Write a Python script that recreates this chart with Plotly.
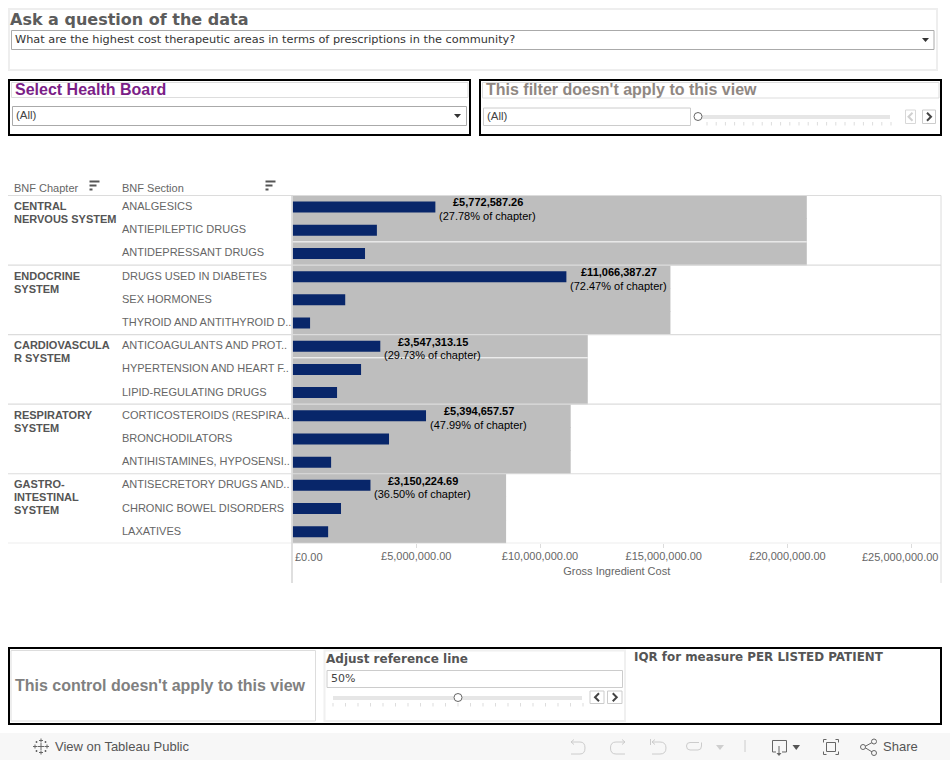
import numpy as np
import plotly.graph_objects as go

# ---- data ----
chapters = ["CENTRAL<br>NERVOUS SYSTEM", "ENDOCRINE<br>SYSTEM", "CARDIOVASCULA<br>R SYSTEM",
            "RESPIRATORY<br>SYSTEM", "GASTRO-<br>INTESTINAL<br>SYSTEM"]
sections = ["ANALGESICS", "ANTIEPILEPTIC DRUGS", "ANTIDEPRESSANT DRUGS",
            "DRUGS USED IN DIABETES", "SEX HORMONES", "THYROID AND ANTITHYROID D..",
            "ANTICOAGULANTS AND PROT..", "HYPERTENSION AND HEART F..", "LIPID-REGULATING DRUGS",
            "CORTICOSTEROIDS (RESPIRA..", "BRONCHODILATORS", "ANTIHISTAMINES, HYPOSENSI..",
            "ANTISECRETORY DRUGS AND..", "CHRONIC BOWEL DISORDERS", "LAXATIVES"]
section_cost = [5772587.26, 3410000, 2930000,
                11066387.27, 2130000, 710000,
                3547313.15, 2770000, 1800000,
                5394657.57, 3900000, 1560000,
                3150224.69, 1960000, 1440000]
chapter_total = [20780000, 15270000, 11930000, 11240000, 8630000]
top_section_label = ["£5,772,587.26", "£11,066,387.27", "£3,547,313.15", "£5,394,657.57", "£3,150,224.69"]
top_section_share = ["(27.78% of chapter)", "(72.47% of chapter)", "(29.73% of chapter)",
                     "(47.99% of chapter)", "(36.50% of chapter)"]
axis_ticks = [0, 5000000, 10000000, 15000000, 20000000, 25000000]
axis_tick_labels = ["£0.00", "£5,000,000.00", "£10,000,000.00", "£15,000,000.00", "£20,000,000.00", "£25,000,000.00"]

# ---- layout constants (pixels) ----
W, H = 950, 760
PX0, PX1, PY0, PY1 = 292.5, 941.0, 195.5, 543.3
ARIAL = "Liberation Sans, Arial, sans-serif"
DEJA = "DejaVu Sans, Verdana, sans-serif"
SEP = "#dcdcdc"


def fx(x):
    return x / W


def fy(y):
    return 1 - y / H


shapes = []
annos = []


def rect(x0, y0, x1, y1, line=None, fill=None, w=1):
    shapes.append(dict(type="rect", xref="paper", yref="paper", x0=fx(x0), x1=fx(x1), y0=fy(y0), y1=fy(y1),
                       line=dict(color=line or "rgba(0,0,0,0)", width=w if line else 0),
                       fillcolor=fill or "rgba(0,0,0,0)", layer="above"))


def seg(x0, y0, x1, y1, color=SEP, w=1):
    shapes.append(dict(type="line", xref="paper", yref="paper", x0=fx(x0), x1=fx(x1), y0=fy(y0), y1=fy(y1),
                       line=dict(color=color, width=w), layer="above"))


def path(cmds, line=None, fill=None, w=1):
    parts = []
    for c in cmds:
        letter, *nums = c
        coords = [f"{fx(nums[i]):.5f},{fy(nums[i + 1]):.5f}" for i in range(0, len(nums), 2)]
        parts.append(letter + " " + " ".join(coords))
    shapes.append(dict(type="path", xref="paper", yref="paper", path=" ".join(parts),
                       line=dict(color=line or "rgba(0,0,0,0)", width=w if line else 0),
                       fillcolor=fill or "rgba(0,0,0,0)", layer="above"))


def tri(x0, x1, y0, y1, fill):
    path([("M", x0, y0), ("L", x1, y0), ("L", (x0 + x1) / 2, y1), ("Z",)], fill=fill)


def circle(cx, cy, r, line="#666666", fill="#ffffff", w=1):
    shapes.append(dict(type="circle", xref="paper", yref="paper", x0=fx(cx - r), x1=fx(cx + r),
                       y0=fy(cy + r), y1=fy(cy - r), line=dict(color=line, width=w), fillcolor=fill, layer="above"))


def text(x, y, s, size=11, color="#555555", family=ARIAL, bold=False, anchor="left", yanchor="middle"):
    nudge = -1 if anchor == "left" else 1
    annos.append(dict(xref="paper", yref="paper", x=fx(x + nudge), y=fy(y), text=f"<b>{s}</b>" if bold else s,
                      showarrow=False, xanchor=anchor, yanchor=yanchor, align="left", borderpad=0,
                      font=dict(family=family, size=size, color=color)))


def button(x0, x1, y0, y1, dark):
    rect(x0, y0, x1, y1, line="#cccccc" if dark else "#d8d8d8")
    cx, cy = (x0 + x1) / 2, (y0 + y1) / 2
    return cx, cy


def chevron(cx, cy, right, color, w=2):
    d = 2 if right else -2
    path([("M", cx - d, cy - 4), ("L", cx + d, cy), ("L", cx - d, cy + 4)], line=color, w=w)


def slider_ticks(x0, x1, y0, y1, n):
    for x in np.linspace(x0, x1, n):
        seg(x, y0, x, y1, color="#dddddd")


# ---- header panel ----
rect(9, 9, 937, 70, line="#eeeeee", w=2)
text(10, 20, "Ask a question of the data", size=16, color="#5c5c5c", family=DEJA, bold=True)
rect(11.5, 30.5, 934, 49.5, line="#aaaaaa")
text(15, 39.5, "What are the highest cost therapeutic areas in terms of prescriptions in the community?",
     size=11.3, color="#333333", family=DEJA)
tri(922, 929, 38, 42, "#333333")

# ---- health board panel ----
rect(9, 80, 470, 135, line="#000000", w=2)
rect(11.5, 82.5, 468, 97.5, line="#dddddd")
text(15, 89.5, "Select Health Board", size=16, color="#7b1e87", bold=True)
rect(12.5, 106.5, 466.5, 125.5, line="#aaaaaa")
text(16, 115, "(All)", size=11.5, color="#444444")
tri(454, 461, 114, 118, "#333333")

# ---- filter panel ----
rect(480, 80, 941, 135, line="#000000", w=2)
rect(482.5, 82.5, 939, 98, line="#dddddd")
text(486, 89.5, "This filter doesn't apply to this view", size=16, color="#8f8782", bold=True)
rect(483.5, 108, 690.5, 125.5, line="#cccccc")
text(487, 116, "(All)", size=11.5, color="#444444")
rect(697, 115, 890, 119, fill="#e6e6e6")
slider_ticks(707, 891, 122, 125.5, 21)
circle(698, 116.5, 4)
cx, cy = button(905.5, 915.5, 110, 123.5, False)
chevron(cx, cy, False, "#d0d0d0")
cx, cy = button(922.5, 935.5, 110, 123.5, True)
chevron(cx, cy, True, "#444444")

# ---- column headers ----
text(14, 188, "BNF Chapter", size=11, color="#666666")
text(122, 188, "BNF Section", size=11, color="#666666")
for sx in (89.5, 265.5):
    seg(sx, 181.5, sx + 10, 181.5, color="#555555", w=2)
    seg(sx, 185.5, sx + 7, 185.5, color="#555555", w=2)
    seg(sx, 189.5, sx + 3, 189.5, color="#555555", w=2)

# ---- chart frame ----
seg(8, PY0, PX1, PY0)
seg(PX0 - 0.5, PY0, PX0 - 0.5, 583, color="#d4d4d4", w=1.5)
seg(PX1, PY0, PX1, 583)

# ---- row / chapter annotations tied to the categorical axis ----
chapter_groups = [sections[i:i + 3] for i in range(0, len(sections), 3)]
section_cost_by_name = dict(zip(sections, section_cost))

for sec in sections:
    annos.append(dict(xref="paper", yref="y", x=fx(121), y=sec, yshift=1, text=sec, showarrow=False, xanchor="left",
                      yanchor="middle", align="left", borderpad=0,
                      font=dict(family=ARIAL, size=11, color="#666666")))

for i, (ch, group) in enumerate(zip(chapters, chapter_groups)):
    for j, part in enumerate(ch.split("<br>")):
        annos.append(dict(xref="paper", yref="y", x=fx(13), y=group[0], yshift=1 - 13 * j, text=f"<b>{part}</b>",
                          showarrow=False, xanchor="left", yanchor="middle", align="left", borderpad=0,
                          font=dict(family=ARIAL, size=11, color="#555555")))
    annos.append(dict(xref="x", yref="y", x=section_cost_by_name[group[0]], y=group[0], xshift=52.5, yshift=4.6,
                      text=f"<b>{top_section_label[i]}</b>", showarrow=False,
                      xanchor="center", yanchor="middle", borderpad=0,
                      font=dict(family=ARIAL, size=11, color="#000000")))
    annos.append(dict(xref="x", yref="y", x=section_cost_by_name[group[0]], y=group[0], xshift=52.5, yshift=-9,
                      text=top_section_share[i], showarrow=False,
                      xanchor="center", yanchor="middle", borderpad=0,
                      font=dict(family=ARIAL, size=11, color="#000000")))

# separators use numeric category positions
for k in range(3, len(sections) + 1, 3):
    shapes.append(dict(type="line", xref="paper", yref="y", x0=fx(8), x1=fx(PX1), y0=k - 0.5, y1=k - 0.5,
                       line=dict(color=SEP, width=1.2), layer="above"))
# thin light seams visible inside two of the grey bands
for pos, total in ((1.5, chapter_total[0]), (6.5, chapter_total[2])):
    shapes.append(dict(type="line", xref="x", yref="y", x0=0, x1=total, y0=pos, y1=pos,
                       line=dict(color="#ffffff", width=1), layer="above"))

# ---- end tick labels (shifted to stay inside the frame) ----
text(295, 556.5, axis_tick_labels[0], size=11, color="#666666")
text(938, 556.5, axis_tick_labels[-1], size=11, color="#666666", anchor="right")

# ---- bottom panel ----
rect(9, 648, 941, 724, line="#000000", w=2)
rect(11, 650.5, 315.5, 721, line="#dddddd")
text(15, 685.5, "This control doesn't apply to this view", size=16, color="#808080", bold=True)
rect(324.5, 650.5, 625, 721, line="#f0f0f0", w=2)
text(326, 658.5, "Adjust reference line", size=12, color="#555555", family=DEJA, bold=True)
rect(327, 670.5, 622.5, 687.5, line="#cccccc")
text(331, 678, "50%", size=11, color="#444444", family=DEJA)
rect(333, 696, 582, 700, fill="#e6e6e6")
slider_ticks(333, 583, 703, 706.5, 21)
circle(458, 697.5, 4)
cx, cy = button(590, 604, 691, 703.5, True)
chevron(cx, cy, False, "#444444")
cx, cy = button(607.5, 622, 691, 703.5, True)
chevron(cx, cy, True, "#444444")
text(634, 656.5, "IQR for measure PER LISTED PATIENT", size=11.9, color="#555555", family=DEJA, bold=True)

# ---- footer toolbar ----
rect(0, 733, 950, 760, fill="#f7f7f7")
lx, ly = 41, 746.5
ICON = "#666666"
for dx, dy, r in ((0, 0, 3.5), (-6, 0, 2), (6, 0, 2), (0, -6, 2), (0, 6, 2), (-4.5, -4.5, 1), (4.5, -4.5, 1), (-4.5, 4.5, 1), (4.5, 4.5, 1)):
    seg(lx + dx - r, ly + dy, lx + dx + r, ly + dy, color=ICON)
    seg(lx + dx, ly + dy - r, lx + dx, ly + dy + r, color=ICON)
text(55, 746.5, "View on Tableau Public", size=13, color="#555555")

GREY = "#cccccc"
# undo
path([("M", 571, 742), ("L", 580, 742), ("Q", 585, 742, 585, 748), ("Q", 585, 754, 580, 754), ("L", 571, 754)], line=GREY)
path([("M", 574, 739.5), ("L", 571, 742), ("L", 574, 744.5)], line=GREY)
# redo
path([("M", 625, 742), ("L", 616, 742), ("Q", 610.5, 742, 610.5, 748), ("Q", 610.5, 754, 616, 754), ("L", 625, 754)], line=GREY)
path([("M", 622, 739.5), ("L", 625, 742), ("L", 622, 744.5)], line=GREY)
# revert
seg(650.5, 739, 650.5, 745, color=GREY)
path([("M", 652, 742), ("L", 660, 742), ("Q", 666, 742, 666, 748), ("Q", 666, 754, 660, 754), ("L", 652, 754)], line=GREY)
path([("M", 655, 739.5), ("L", 652, 742), ("L", 655, 744.5)], line=GREY)
# refresh
path([("M", 699, 742.5), ("L", 690, 742.5), ("Q", 686.5, 742.5, 686.5, 746), ("Q", 686.5, 750, 690, 750),
      ("L", 698, 750), ("Q", 701.5, 750, 701.5, 746), ("L", 701.5, 742.5)], line=GREY)
tri(716, 724, 745, 750, "#cfcfcf")
seg(745, 740, 745, 752, color=GREY)
# download
DARK = "#666666"
path([("M", 776, 752), ("L", 772.5, 752), ("L", 772.5, 740.5), ("L", 786.5, 740.5), ("L", 786.5, 752), ("L", 782, 752)], line=DARK)
seg(779, 746, 779, 754, color=DARK)
tri(776.5, 781.5, 753, 756, DARK)
tri(792.5, 800, 745, 750, "#555555")
# fullscreen
rect(826.5, 742.5, 835.5, 751.5, line=DARK)
for sx, sy, hx, vy in ((823.5, 739.5, 1, 1), (838.5, 739.5, -1, 1), (823.5, 754.5, 1, -1), (838.5, 754.5, -1, -1)):
    path([("M", sx + 3 * hx, sy), ("L", sx, sy), ("L", sx, sy + 3 * vy)], line=DARK)
# share
seg(864, 747, 873, 742, color=DARK)
seg(864, 747, 873, 752.5, color=DARK)
circle(863, 747, 2.5, line=DARK, fill="#f7f7f7")
circle(874, 741.5, 2.5, line=DARK, fill="#f7f7f7")
circle(874, 753, 2.5, line=DARK, fill="#f7f7f7")
text(883, 746.5, "Share", size=13, color="#555555")

# ---- chart ----
section_totals = [chapter_total[i // 3] for i in range(len(sections))]
fig = go.Figure()
fig.add_trace(go.Bar(y=sections, x=section_totals, orientation="h", width=1.03, marker=dict(color="#bebebe", line_width=0),
                     hoverinfo="skip", showlegend=False))
fig.add_trace(go.Bar(y=sections, x=section_cost, orientation="h", width=0.475, marker=dict(color="#08266a", line_width=0),
                     showlegend=False))

fig.update_layout(
    width=W, height=H, margin=dict(l=0, r=0, t=0, b=0), autosize=False,
    barmode="overlay", paper_bgcolor="#ffffff", plot_bgcolor="#ffffff", showlegend=False,
    shapes=shapes, annotations=annos,
    font=dict(family=ARIAL, size=11, color="#666666"),
    xaxis=dict(domain=[fx(PX0), fx(PX1)], range=[0, (PX1 - PX0) / 123.75 * 5000000],
               tickmode="array", tickvals=axis_ticks[1:],
               ticktext=axis_tick_labels[1:-1] + [""],
               ticks="outside", ticklen=4, tickcolor=SEP, tickwidth=1, ticklabelstandoff=-2, showgrid=False,
               zeroline=False, showline=False, automargin=False, tickfont=dict(family=ARIAL, size=11, color="#666666"),
               title=dict(text="Gross Ingredient Cost", standoff=6, font=dict(family=ARIAL, size=11, color="#666666"))),
    yaxis=dict(domain=[fy(PY1), fy(PY0)], type="category", categoryorder="array", categoryarray=sections,
               range=[len(sections) - 0.5, -0.5], showticklabels=False, ticks="", showgrid=False, zeroline=False,
               showline=False, automargin=False),
)

fig.write_html("out.html", config=dict(displayModeBar=False),
               post_script="document.body.style.margin='0';document.body.style.overflow='hidden';")
